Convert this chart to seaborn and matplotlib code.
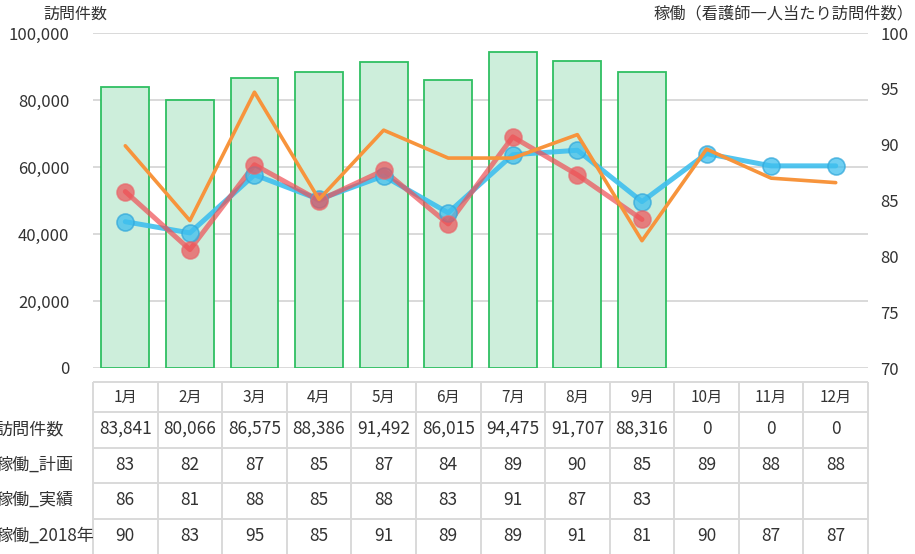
import numpy as np
import pandas as pd
import matplotlib
matplotlib.use("Agg")
import matplotlib.pyplot as plt
import matplotlib.transforms as mtransforms
import seaborn as sns

# ---------------- data ----------------
months = ["1月", "2月", "3月", "4月", "5月", "6月", "7月", "8月", "9月", "10月", "11月", "12月"]
visits = [83841, 80066, 86575, 88386, 91492, 86015, 94475, 91707, 88316, 0, 0, 0]
plan = [83.1, 82.1, 87.3, 85.1, 87.2, 83.9, 89.1, 89.5, 84.9, 89.2, 88.1, 88.1]
actual = [85.8, 80.6, 88.2, 85.0, 87.7, 82.9, 90.7, 87.3, 83.3, np.nan, np.nan, np.nan]
prev = [89.9, 83.2, 94.7, 85.1, 91.3, 88.8, 88.8, 90.9, 81.4, 89.6, 87.0, 86.6]
row_labels = ["訪問件数", "稼働_計画", "稼働_実績", "稼働_2018年"]
left_ticks = [0, 20000, 40000, 60000, 80000, 100000]
right_ticks = [70, 75, 80, 85, 90, 95, 100]
left_title = "訪問件数"
right_title = "稼働（看護師一人当たり訪問件数）"

# ---------------- style ----------------
sns.set_style("white")
plt.rcParams["font.family"] = ["Noto Sans CJK JP", "DejaVu Sans"]
TXT = "#333333"
GRID = "#d9d9d9"
BAR_FILL = "#cdeedb"
BAR_EDGE = "#2fbf62"
BLUE = "#3fbfee"
RED = "#ef4f55"
ORANGE = "#f7943c"

df = pd.DataFrame({"month": months, "visits": visits, "plan": plan,
                   "actual": actual, "prev": prev})
df["pos"] = np.arange(len(months))

W, H = 915, 554
fig = plt.figure(figsize=(W / 100, H / 100), dpi=100)
L, R, T, B = 93, 868, 33, 368
ax = fig.add_axes([L / W, 1 - B / H, (R - L) / W, (B - T) / H])

# bars
sns.barplot(data=df[df["visits"] > 0], x="month", y="visits", order=months,
            color=BAR_FILL, edgecolor=BAR_EDGE, linewidth=1.3, width=0.74,
            saturation=1, ax=ax)
ax.set_ylim(0, 100000)
ax.set_yticks(left_ticks)
ax.set_yticklabels([f"{v:,}" for v in left_ticks])
ax.yaxis.grid(True, color=GRID, linewidth=1.4)
ax.set_axisbelow(True)
ax.tick_params(axis="y", length=0, pad=17, labelsize=12, labelcolor=TXT)
ax.tick_params(axis="x", length=0, labelbottom=False)
ax.set_xlabel("")
ax.set_ylabel("")
for s in ax.spines.values():
    s.set_visible(False)

# lines on twin axis
ax2 = ax.twinx()
sns.lineplot(data=df, x="pos", y="plan", color=BLUE, linewidth=3.6, alpha=0.9, ax=ax2)
sns.scatterplot(data=df, x="pos", y="plan", color=BLUE, s=150, alpha=0.75,
                edgecolor="#34a9db", linewidth=1.2, ax=ax2, zorder=4)
sns.lineplot(data=df, x="pos", y="actual", color=RED, linewidth=3.6, alpha=0.7, ax=ax2)
sns.scatterplot(data=df, x="pos", y="actual", color=RED, s=150, alpha=0.7,
                edgecolor="#e8686c", linewidth=1.2, ax=ax2, zorder=4)
sns.lineplot(data=df, x="pos", y="prev", color=ORANGE, linewidth=2.6, ax=ax2, zorder=5)
ax2.set_ylim(70, 100)
ax2.set_yticks(right_ticks)
ax2.tick_params(axis="y", length=0, pad=9, labelsize=12, labelcolor=TXT)
ax2.set_xlabel("")
ax2.set_ylabel("")
ax2.grid(False)
for s in ax2.spines.values():
    s.set_visible(False)
ax.set_xlim(-0.5, len(months) - 0.5)
ax2.set_xlim(-0.5, len(months) - 0.5)

# axis titles
fig.text(75 / W, 1 - 14 / H, left_title, ha="center", va="center", fontsize=11.5, color=TXT)
fig.text(913 / W, 1 - 14 / H, right_title, ha="right", va="center", fontsize=11.7, color=TXT)

# ---------------- table ----------------
tb_top, tb_bot = 382, 556
axt = fig.add_axes([L / W, 1 - tb_bot / H, (R - L) / W, (tb_bot - tb_top) / H])
axt.set_xlim(-0.5, len(months) - 0.5)
axt.set_ylim(tb_bot - tb_top, 0)
axt.axis("off")
row_edges = [0, 30, 66, 101, 137]
row_centers = [15, 47, 83, 118, 154]
axt.hlines(row_edges, -0.5, len(months) - 0.5, color=GRID, linewidth=1.4, clip_on=False)
axt.vlines(np.arange(len(months) + 1) - 0.5, 0, tb_bot - tb_top, color=GRID,
           linewidth=1.4, clip_on=False)

rows = [
    [f"{v:,}" for v in visits],
    [f"{round(v)}" for v in plan],
    ["" if np.isnan(v) else f"{round(v)}" for v in actual],
    [f"{round(v)}" for v in prev],
]
for i, m in enumerate(months):
    axt.text(i, row_centers[0], m, ha="center", va="center", fontsize=11, color=TXT)
    for r, vals in enumerate(rows):
        axt.text(i, row_centers[r + 1], vals[i], ha="center", va="center",
                 fontsize=12.5, color=TXT)
blend = mtransforms.blended_transform_factory(fig.transFigure, axt.transData)
for r, lab in enumerate(row_labels):
    axt.text(-5 / W, row_centers[r + 1], lab, transform=blend, ha="left",
             va="center", fontsize=12.3, color=TXT, clip_on=False)

fig.savefig("out.png", dpi=100)
